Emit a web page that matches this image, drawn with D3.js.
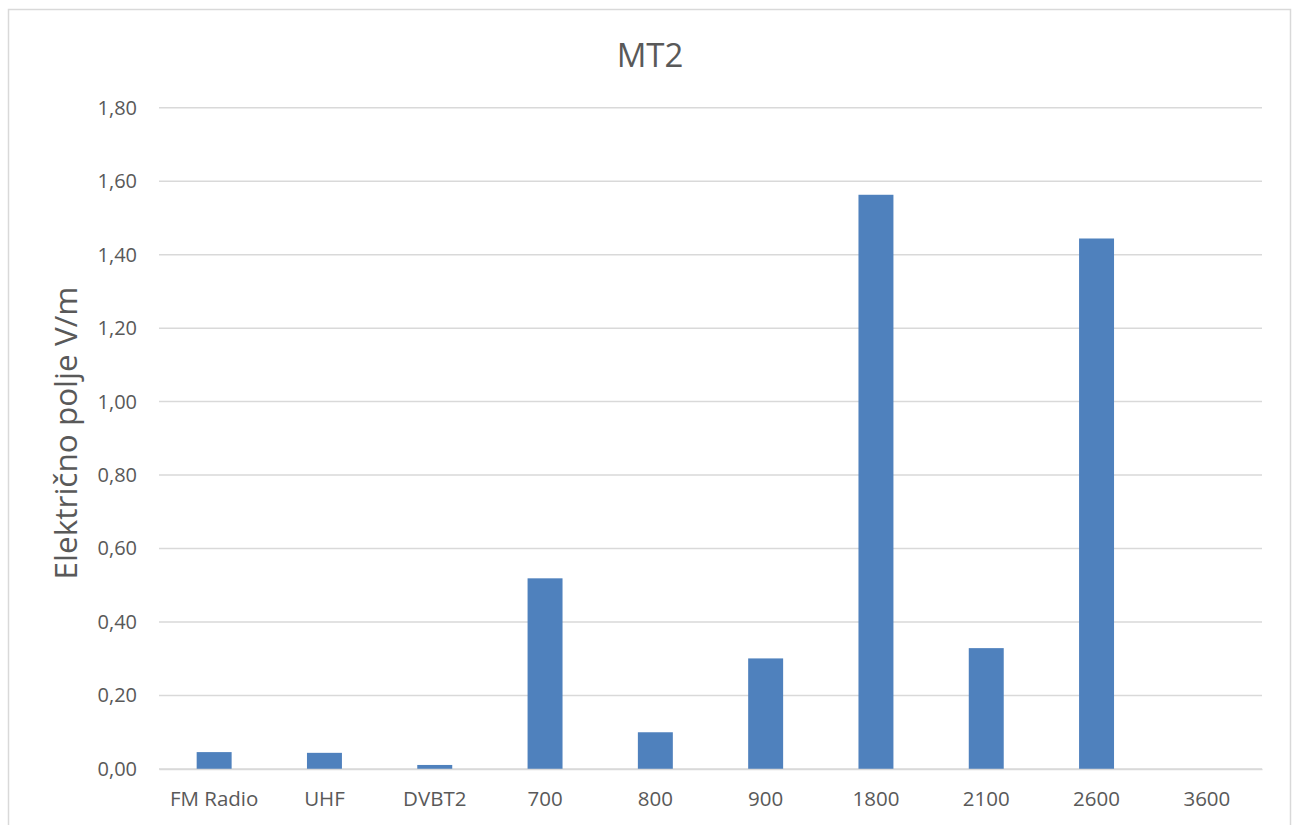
<!DOCTYPE html>
<html>
<head>
<meta charset="utf-8">
<script src="https://cdn.jsdelivr.net/npm/d3@7"></script>
<style>
  html, body { margin: 0; padding: 0; background: #fff; }
  svg { display: block; }
</style>
</head>
<body>
<svg id="chart" width="1295" height="825"></svg>
<script>
const categories = ["FM Radio", "UHF", "DVBT2", "700", "800", "900", "1800", "2100", "2600", "3600"];
const values = [0.046, 0.044, 0.011, 0.519, 0.100, 0.301, 1.563, 0.329, 1.444, 0];
const yTicks = [0, 0.2, 0.4, 0.6, 0.8, 1.0, 1.2, 1.4, 1.6, 1.8];
const title = "MT2";
const yTitle = "Električno polje V/m";

const svg = d3.select("#chart");
const plot = { left: 159, right: 1262, top: 107.7, bottom: 769 };
const font = "'Open Sans', 'Noto Sans', sans-serif";
const textColor = "#595959";

// chart frame
svg.append("rect")
  .attr("x", 8.5).attr("y", 9.5)
  .attr("width", 1282).attr("height", 830)
  .attr("fill", "#fff").attr("stroke", "#d9d9d9").attr("stroke-width", 1.5);

const x = d3.scaleBand().domain(categories).range([plot.left, plot.right]).paddingInner(0.683).paddingOuter(0.3415);
const y = d3.scaleLinear().domain([0, 1.8]).range([plot.bottom, plot.top]);

// gridlines
svg.append("g").selectAll("line").data(yTicks).join("line")
  .attr("x1", plot.left).attr("x2", plot.right)
  .attr("y1", d => y(d)).attr("y2", d => y(d))
  .attr("stroke", "#d9d9d9").attr("stroke-width", 1.5);

// y axis labels
const yAxis = d3.axisLeft(y).tickValues(yTicks).tickSize(0).tickPadding(0)
  .tickFormat(d => d3.format(".2f")(d).replace(".", ","));
const gy = svg.append("g").attr("transform", `translate(${plot.left - 22},0)`).call(yAxis);
gy.select(".domain").remove();
gy.selectAll("text").attr("font-family", font).attr("font-size", 20).attr("fill", textColor);

// bars
svg.append("g").selectAll("rect").data(values).join("rect")
  .attr("x", (d, i) => x(categories[i]))
  .attr("width", x.bandwidth())
  .attr("y", d => y(d))
  .attr("height", d => y(0) - y(d))
  .attr("fill", "#4f81bd");

// x axis
const xAxis = d3.axisBottom(x).tickSize(0).tickPadding(22);
const gx = svg.append("g").attr("transform", `translate(0,${plot.bottom})`).call(xAxis);
gx.select(".domain").attr("stroke", "#d9d9d9").attr("stroke-width", 1.5);
gx.selectAll("text").attr("font-family", font).attr("font-size", 20.5).attr("fill", textColor);

// title
svg.append("text").attr("x", 650).attr("y", 67).attr("text-anchor", "middle")
  .attr("font-family", font).attr("font-size", 33).attr("fill", textColor).text(title);

// y title
svg.append("text").attr("transform", `translate(77,433) rotate(-90)`)
  .attr("text-anchor", "middle")
  .attr("font-family", font).attr("font-size", 31.5).attr("fill", textColor).text(yTitle);
</script>
</body>
</html>
